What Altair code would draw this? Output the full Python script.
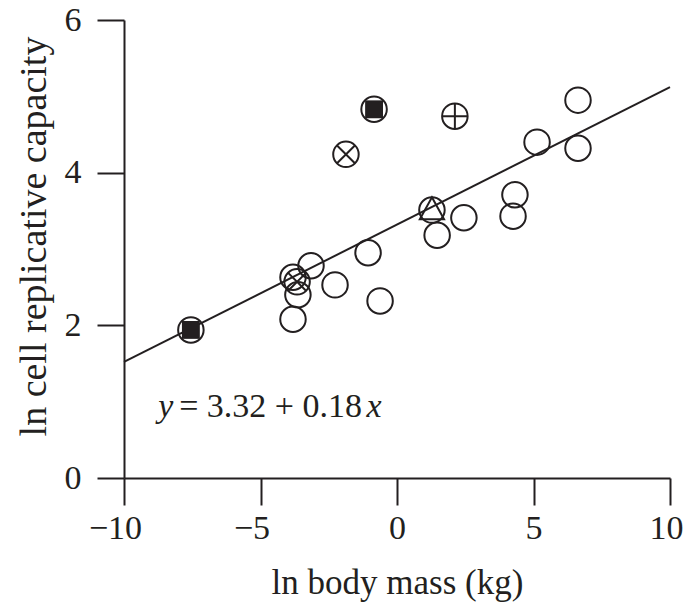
import altair as alt
import pandas as pd

# ---- data ----
body_mass = [-7.55, -0.84, -1.87, 2.12, 1.28, 1.47, 2.45, 4.32, 4.25, 5.13, 6.63, 6.63,
             -1.06, -0.62, -2.27, -3.15, -3.81, -3.66, -3.63, -3.81]
replicative = [1.94, 4.83, 4.24, 4.74, 3.51, 3.18, 3.41, 3.71, 3.43, 4.40, 4.95, 4.32,
               2.95, 2.32, 2.53, 2.78, 2.63, 2.57, 2.40, 2.08]
marker = ["square", "square", "xcross", "plus", "triangle", "circle", "circle", "circle",
          "circle", "circle", "circle", "circle", "circle", "circle", "circle", "circle",
          "circle", "xcross", "circle", "circle"]

intercept = 3.32
slope = 0.18
fit_x = [-10, 10]

x_ticks = [-10, -5, 0, 5, 10]
y_ticks = [0, 2, 4, 6]

eq_parts = ["y", "= 3.32 + 0.18", "x"]
eq_x = [-8.75, -7.98, -1.12]
eq_y = [0.93, 0.93, 0.93]
eq_italic = [True, False, True]

df = pd.DataFrame({"mass": body_mass, "cap": replicative, "marker": marker})
fit = pd.DataFrame({"mass": fit_x, "cap": [intercept + slope * v for v in fit_x]})
eq = pd.DataFrame({"mass": eq_x, "cap": eq_y, "text": eq_parts, "italic": eq_italic})

INK = "#231f20"
FONT = "Liberation Serif"
SZ = 650

xscale = alt.Scale(domain=[-10, 10], nice=False)
yscale = alt.Scale(domain=[0, 6], nice=False)

xaxis = alt.Axis(values=x_ticks, title="ln body mass (kg)", grid=False, format="d",
                 tickSize=27, tickWidth=2, tickColor=INK, domainWidth=2, domainColor=INK,
                 labelFont=FONT, labelFontSize=34, labelColor=INK, labelPadding=6,
                 labelOffset={"condition": [{"test": "datum.value < 0", "value": -9},
                                            {"test": "datum.value > 9", "value": -4}],
                              "value": 0},
                 labelFlush=False, labelOverlap=False,
                 titleFont=FONT, titleFontSize=35, titleFontWeight="normal", titleColor=INK,
                 titleY=104, titleBaseline="middle")
yaxis = alt.Axis(values=y_ticks, title="ln cell replicative capacity", grid=False, format="d",
                 tickSize=27, tickWidth=2, tickColor=INK, domainWidth=2, domainColor=INK,
                 labelFont=FONT, labelFontSize=34, labelColor=INK, labelPadding=16,
                 labelFlush=False, labelOverlap=False,
                 titleFont=FONT, titleFontSize=38, titleFontWeight="normal", titleColor=INK,
                 titleX=-90, titleY=216, titleAngle=270, titleAlign="center",
                 titleBaseline="middle")

X = alt.X("mass:Q", scale=xscale, axis=xaxis)
Y = alt.Y("cap:Q", scale=yscale, axis=yaxis)
Xn = alt.X("mass:Q", scale=xscale)
Yn = alt.Y("cap:Q", scale=yscale)

line = alt.Chart(fit).mark_line(color=INK, strokeWidth=2).encode(x=X, y=Y)

circles = alt.Chart(df).mark_point(shape="circle", size=SZ, filled=False, color=INK,
                                   strokeWidth=2, opacity=1).encode(x=Xn, y=Yn)

squares = alt.Chart(df).transform_filter("datum.marker == 'square'").mark_point(
    shape="square", size=320, filled=True, color=INK, opacity=1).encode(x=Xn, y=Yn)

xcross = alt.Chart(df).transform_filter("datum.marker == 'xcross'").mark_point(
    shape="M-0.7,-0.7L0.7,0.7M-0.7,0.7L0.7,-0.7", size=SZ, filled=False, color=INK,
    strokeWidth=2, opacity=1).encode(x=Xn, y=Yn)

plus = alt.Chart(df).transform_filter("datum.marker == 'plus'").mark_point(
    shape="M-1,0L1,0M0,-1L0,1", size=SZ, filled=False, color=INK,
    strokeWidth=2, opacity=1).encode(x=Xn, y=Yn)

tri = alt.Chart(df).transform_filter("datum.marker == 'triangle'").mark_point(
    shape="M0,-1L0.95,0.72L-0.95,0.72Z", size=SZ, filled=False, color=INK,
    strokeWidth=2, opacity=1).encode(x=Xn, y=Yn)

eq_it = alt.Chart(eq).transform_filter("datum.italic").mark_text(
    font=FONT, fontSize=34, fontStyle="italic", color=INK, align="left",
    baseline="middle").encode(x=Xn, y=Yn, text="text:N")
eq_rm = alt.Chart(eq).transform_filter("!datum.italic").mark_text(
    font=FONT, fontSize=34, color=INK, align="left",
    baseline="middle").encode(x=Xn, y=Yn, text="text:N")

chart = alt.layer(line, circles, squares, xcross, plus, tri, eq_it, eq_rm).properties(
    width=546, height=458,
    autosize=alt.AutoSizeParams(type="none"),
    padding={"left": 116, "top": 12, "right": 13, "bottom": 125},
).configure_view(stroke=None)

chart.save("out.html", embed_options={"renderer": "svg", "actions": False})
